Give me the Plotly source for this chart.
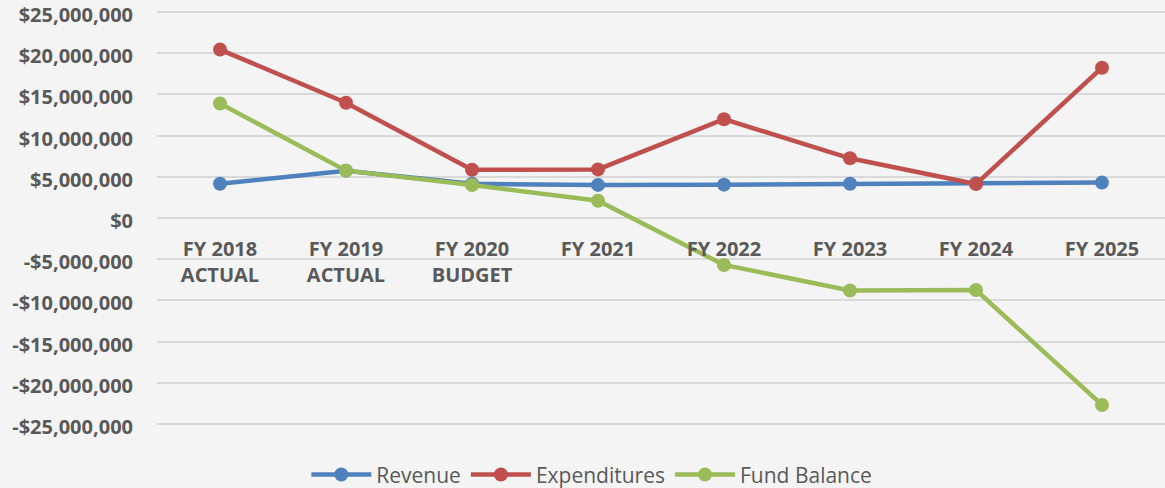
import plotly.graph_objects as go

categories = ["FY 2018<br>ACTUAL", "FY 2019<br>ACTUAL", "FY 2020<br>BUDGET", "FY 2021",
              "FY 2022", "FY 2023", "FY 2024", "FY 2025"]
revenue = [4.16e6, 5.75e6, 4.15e6, 4.02e6, 4.05e6, 4.15e6, 4.22e6, 4.30e6]
expenditures = [20.45e6, 14.0e6, 5.86e6, 5.9e6, 12.0e6, 7.25e6, 4.12e6, 18.25e6]
fund_balance = [13.9e6, 5.75e6, 4.0e6, 2.1e6, -5.7e6, -8.8e6, -8.75e6, -22.7e6]

y_ticks = [v * 5e6 for v in range(-5, 6)]
y_labels = [("-$" if v < 0 else "$") + f"{abs(v):,.0f}" for v in y_ticks]

series = [
    ("Revenue", revenue, "#4f81bd"),
    ("Expenditures", expenditures, "#c0504d"),
    ("Fund Balance", fund_balance, "#9bbb59"),
]

fig = go.Figure()
for name, vals, color in series:
    fig.add_trace(go.Scatter(
        x=categories, y=vals, name=name, mode="lines+markers",
        line=dict(color=color, width=4.5),
        marker=dict(color=color, size=14),
    ))

fig.update_layout(
    width=1165, height=488,
    margin=dict(l=157, r=0, t=8, b=60, autoexpand=False),
    paper_bgcolor="#f4f4f4",
    plot_bgcolor="#f4f4f4",
    font=dict(family="Open Sans", color="#595959"),
    legend=dict(
        orientation="h", xref="container", yref="container",
        x=0.508, xanchor="center", y=0.027, yanchor="middle",
        font=dict(size=21, family="Open Sans", color="#595959"),
        itemwidth=60, bgcolor="rgba(0,0,0,0)",
    ),
)
fig.update_xaxes(
    type="category", anchor="free", position=0.5,
    showgrid=False, showline=False, zeroline=False, ticks="",
    ticklabelstandoff=17,
    range=[-0.5, len(categories) - 0.5],
    tickfont=dict(size=20, family="Open Sans", weight="bold", color="#595959"),
)
fig.update_yaxes(
    range=[-25.5e6, 25.5e6], tickvals=y_ticks, ticktext=y_labels,
    showgrid=True, gridcolor="#d9d9d9", gridwidth=1.5,
    zeroline=False, showline=False, ticks="", ticklabelstandoff=23,
    ticklabeloverflow="allow", ticklabelshift=3,
    tickfont=dict(size=20, family="Open Sans", weight="bold", color="#595959"),
)

fig.write_html("out.html", config={"displayModeBar": False},
               post_script="document.body.style.margin='0';")
